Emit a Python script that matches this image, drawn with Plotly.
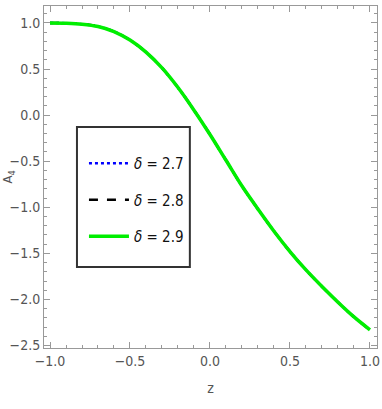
import plotly.graph_objects as go

# Data (three curves coincide)
z = [-1.0, -0.9, -0.8, -0.7, -0.6, -0.5, -0.4, -0.3, -0.2, -0.1, 0.0,
     0.1, 0.2, 0.3, 0.4, 0.5, 0.6, 0.7, 0.8, 0.9, 1.0]
a4_27 = [1.0, 0.997, 0.987, 0.962, 0.907, 0.814, 0.684, 0.512, 0.299, 0.054, -0.21,
         -0.49, -0.77, -1.02, -1.26, -1.48, -1.68, -1.86, -2.03, -2.19, -2.33]
a4_28 = list(a4_27)
a4_29 = list(a4_27)
labels = ["<i>δ</i> = 2.7", "<i>δ</i> = 2.8", "<i>δ</i> = 2.9"]

FONT = "DejaVu Sans Condensed, Liberation Sans Narrow, Liberation Sans, Arial"

fig = go.Figure()
fig.add_trace(go.Scatter(x=z, y=a4_27, mode="lines", name=labels[0], legendgroup="a",
                         line=dict(color="#0000ff", width=2.5, dash="dot", shape="spline")))
fig.add_trace(go.Scatter(x=z, y=a4_28, mode="lines", name=labels[1], legendgroup="b",
                         line=dict(color="#000000", width=2.5, dash="dash", shape="spline")))
fig.add_trace(go.Scatter(x=z, y=a4_29, mode="lines", name=labels[2], legendgroup="c",
                         line=dict(color="#00ee00", width=3.5, shape="spline")))

axis_common = dict(
    showline=True, linecolor="#999999", linewidth=1, mirror="allticks",
    ticks="inside", ticklen=6, tickcolor="#999999", tickwidth=1,
    showgrid=False, zeroline=False, automargin=False,
    tickfont=dict(family=FONT, size=14, color="#555555"),
    tickformat=".1f",
    minor=dict(ticks="inside", ticklen=3, tickcolor="#999999", dtick=0.1, showgrid=False),
)

fig.update_layout(
    width=382, height=409,
    margin=dict(l=44, r=5, t=6, b=61),
    paper_bgcolor="white", plot_bgcolor="white",
    xaxis=dict(range=[-1.0375, 1.044], dtick=0.5, tick0=0,
               title=dict(text="z", font=dict(family=FONT, size=14, color="#555555"), standoff=15),
               **axis_common),
    yaxis=dict(range=[-2.527, 1.184], dtick=0.5, tick0=0,
               title=dict(text="A<sub>4</sub>", font=dict(family=FONT, size=13, color="#555555"), standoff=4),
               **axis_common),
    legend=dict(x=0.12, y=0.588, xanchor="left", yanchor="top",
                bgcolor="rgba(0,0,0,0)", borderwidth=0,
                font=dict(family=FONT, size=15, color="#111111"),
                tracegroupgap=14, itemwidth=40),
    shapes=[dict(type="rect", xref="paper", yref="paper",
                 x0=0.099, x1=0.438, y0=0.237, y1=0.646,
                 line=dict(color="#333333", width=2), fillcolor="rgba(0,0,0,0)")],
    showlegend=True,
)

fig.write_html("out.html", config={"displayModeBar": False},
               post_script="document.body.style.margin='0';")
